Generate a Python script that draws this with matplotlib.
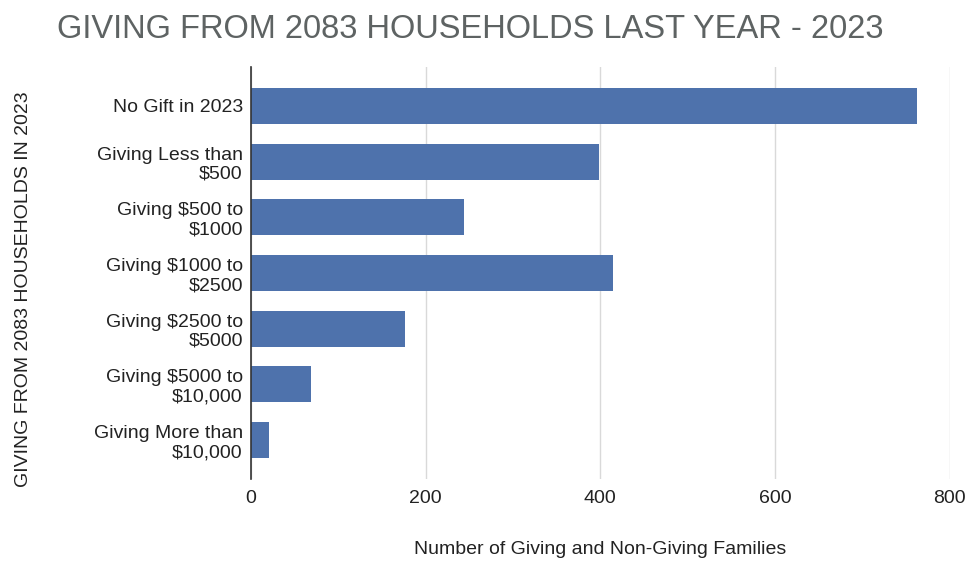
import matplotlib
matplotlib.use('Agg')
import matplotlib.pyplot as plt
import numpy as np

plt.rcParams['font.family'] = ['Liberation Sans', 'DejaVu Sans']

categories = ['No Gift in 2023', 'Giving Less than\n$500', 'Giving $500 to\n$1000',
              'Giving $1000 to\n$2500', 'Giving $2500 to\n$5000', 'Giving $5000 to\n$10,000',
              'Giving More than\n$10,000']
families = [763, 398, 244, 414, 176, 68, 20]
x_ticks = [0, 200, 400, 600, 800]

fig = plt.figure(figsize=(9.66, 5.63), dpi=100)
ax = fig.add_axes([0.26, 0.149, 0.723, 0.732])

y = np.arange(len(categories))
ax.barh(y, families, height=0.645, color='#4e72ac', zorder=3)
ax.set_ylim(len(categories) - 1 + 0.7, -0.7)
ax.set_xlim(0, 800)
ax.set_yticks(y)
ax.set_yticklabels(categories, fontsize=14, color='#222222', linespacing=1.15)
ax.set_xticks(x_ticks)
ax.tick_params(axis='x', labelsize=14, colors='#222222', length=0, pad=8)
ax.tick_params(axis='y', length=0, pad=6)

for s in ['top', 'right', 'bottom']:
    ax.spines[s].set_visible(False)
ax.spines['left'].set_color('#333333')
ax.spines['left'].set_linewidth(1.2)
ax.spines['left'].set_zorder(4)
ax.grid(axis='x', color='#d9d9d9', linewidth=1, zorder=0)

ax.set_xlabel('Number of Giving and Non-Giving Families', fontsize=14, color='#222222', labelpad=24)
fig.text(0.024, 0.487, 'GIVING FROM 2083 HOUSEHOLDS IN 2023', rotation=90, fontsize=14,
         color='#222222', ha='center', va='center')
fig.text(0.487, 0.947, 'GIVING FROM 2083 HOUSEHOLDS LAST YEAR - 2023', fontsize=23.5,
         color='#5e6363', ha='center', va='center')

plt.savefig('out.png')
